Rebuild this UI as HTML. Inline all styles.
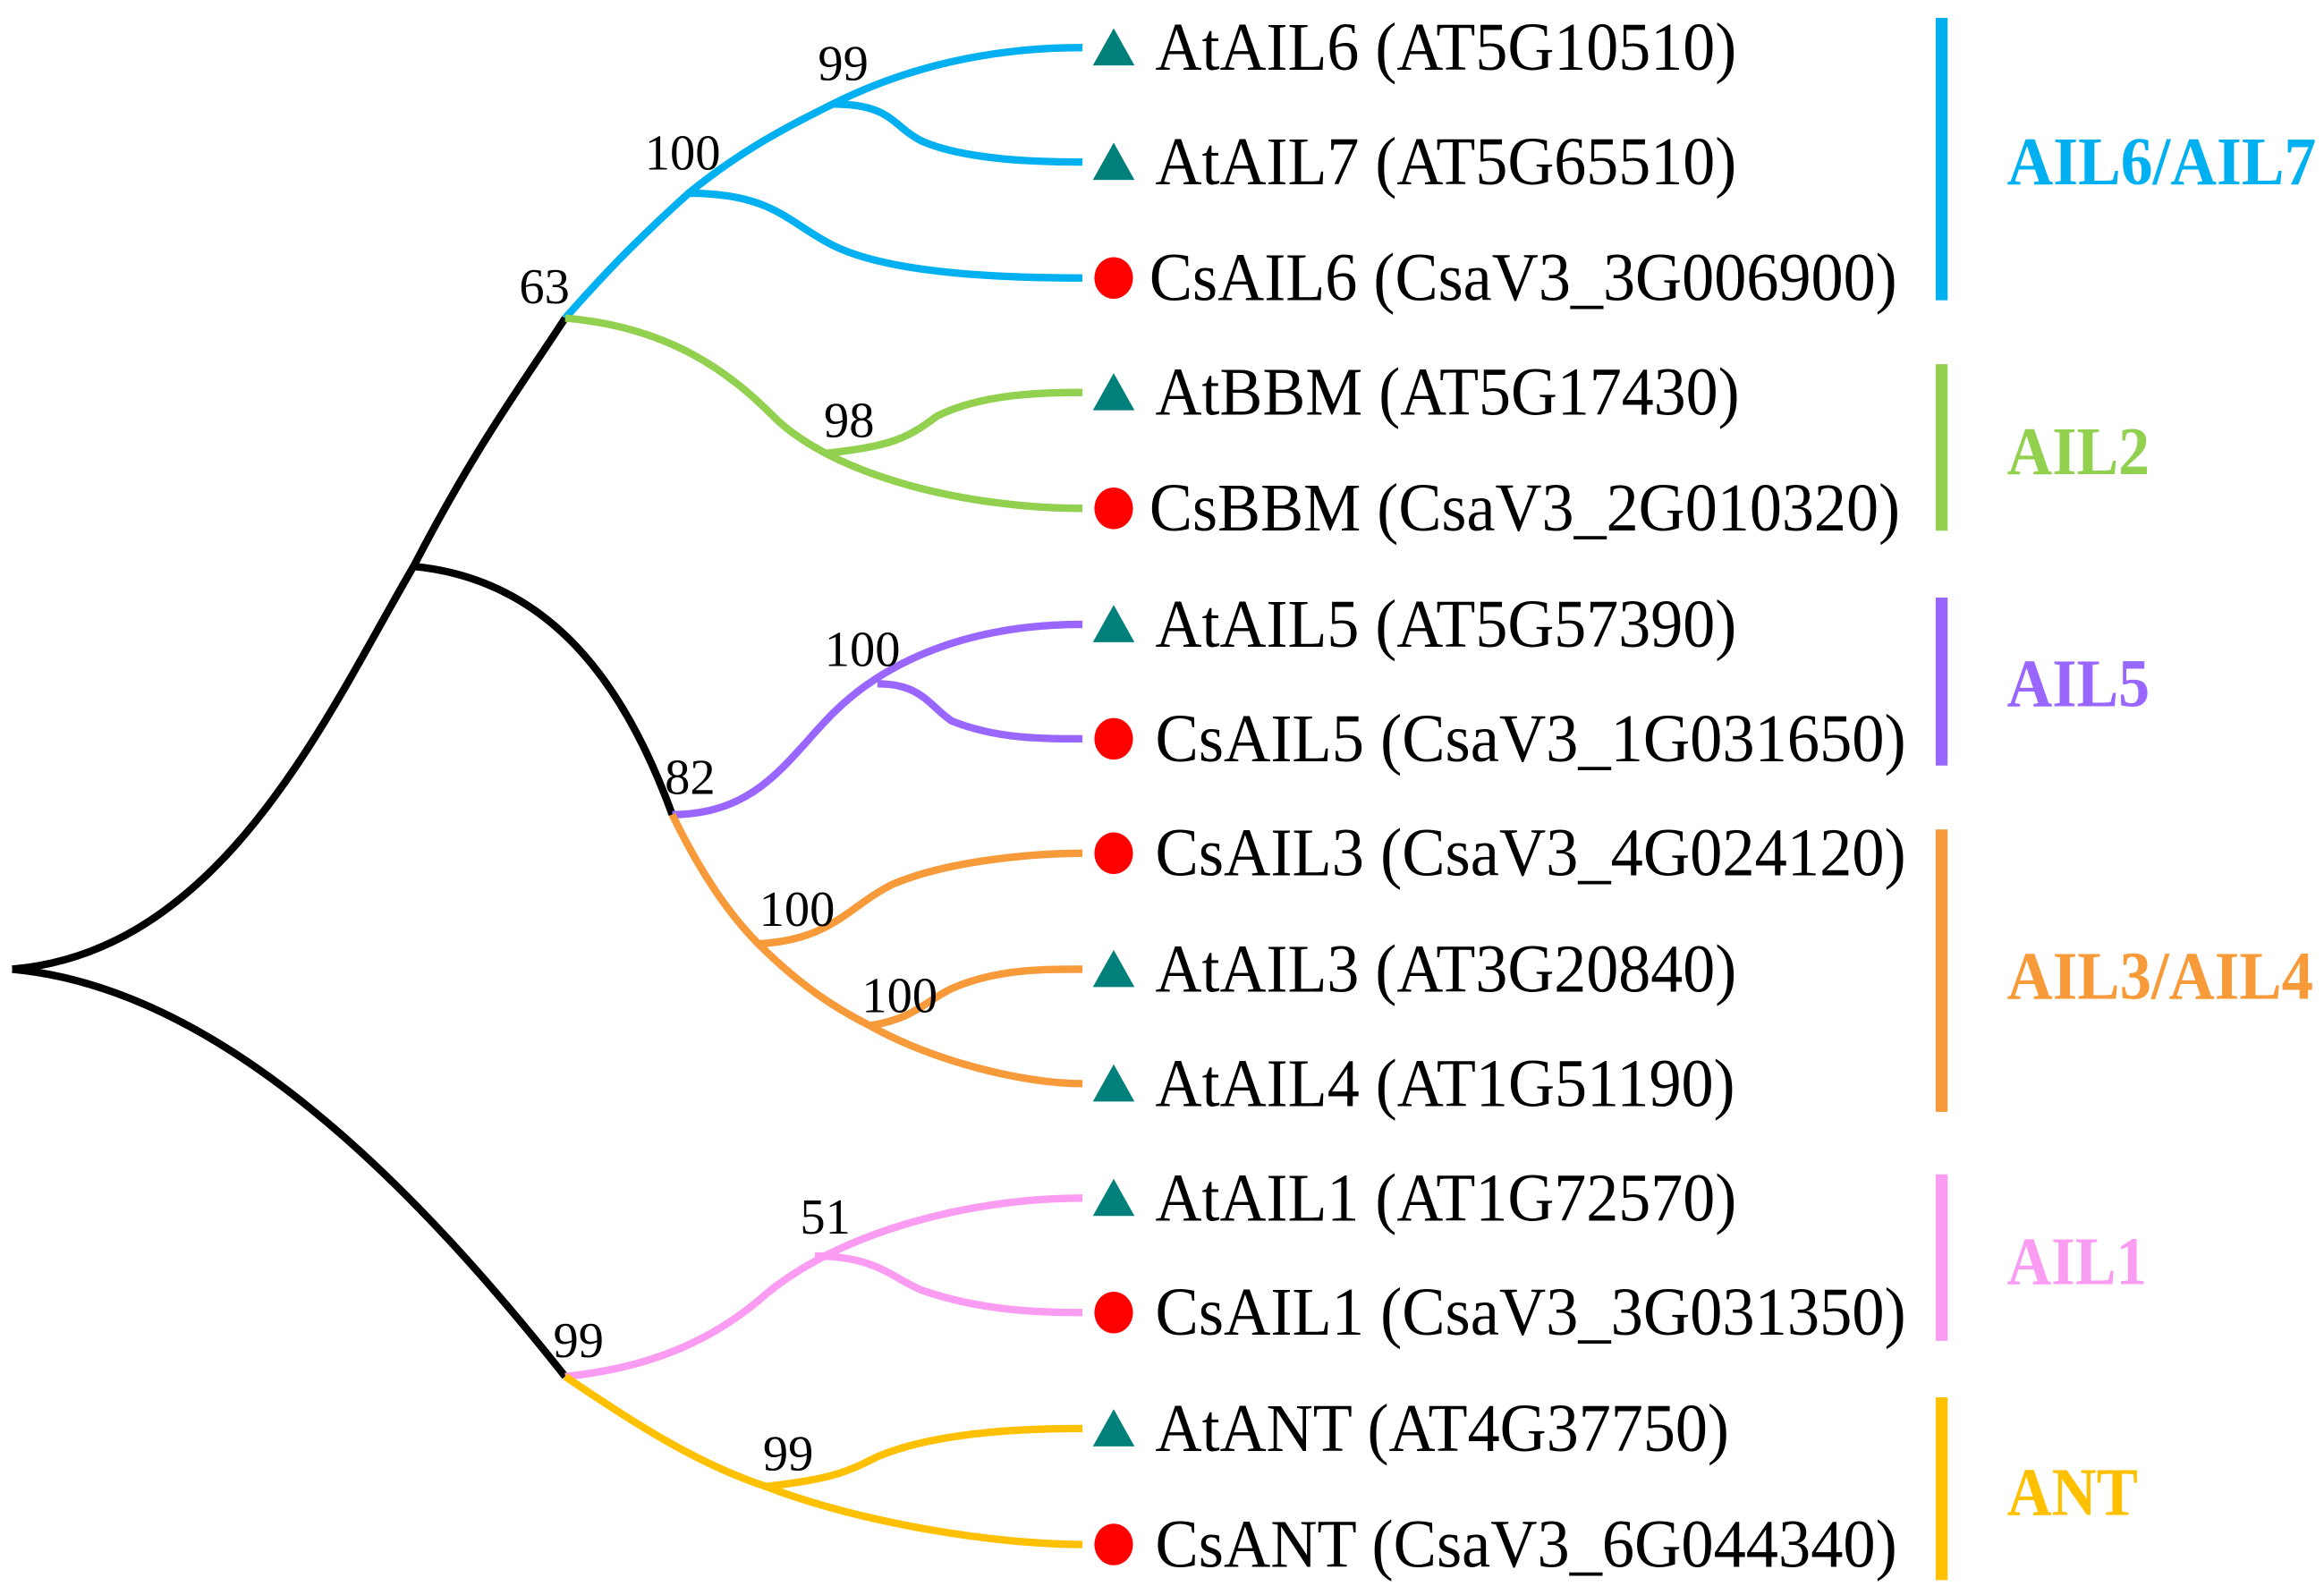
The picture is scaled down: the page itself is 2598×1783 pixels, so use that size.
<!DOCTYPE html>
<html><head><meta charset="utf-8"><style>html,body{margin:0;padding:0;background:#fff}svg{display:block}</style></head>
<body>
<svg width="2598" height="1783" viewBox="0 0 1563 1073" xmlns="http://www.w3.org/2000/svg">
<rect width="1563" height="1073" fill="#fff"/>
<g fill="none" stroke-width="5" stroke-linecap="butt">
<path stroke="#000" d="M8,652 C150,640 220,480 278,381 C320,300 350,260 380,214"/>
<path stroke="#000" d="M8,652 C150,665 280,800 380,926"/>
<path stroke="#000" d="M278,381 C370,390 420,460 452,548"/>
<path stroke="#00b0f0" d="M380,214 C410,180 430,160 463,130 C500,100 530,85 560,70 C620,40 680,32 728,32"/>
<path stroke="#00b0f0" d="M463,130 C520,130 530,150 560,165 C600,185 680,187 728,187"/>
<path stroke="#00b0f0" d="M560,70 C600,70 600,85 620,95 C650,108 700,109 728,109"/>
<path stroke="#92d050" d="M380,214 C450,220 490,250 520,280 C560,320 650,342 728,342"/>
<path stroke="#92d050" d="M555,305 C600,300 610,295 630,280 C660,265 700,264 728,264"/>
<path stroke="#9966ff" d="M452,548 C510,548 530,510 560,480 C600,440 660,420 728,420"/>
<path stroke="#9966ff" d="M590,460 C620,460 625,475 640,485 C670,497 700,497 728,497"/>
<path stroke="#f79a3a" d="M452,548 C470,585 490,615 510,635 C540,665 565,680 585,690 C630,715 690,729 728,729"/>
<path stroke="#f79a3a" d="M510,635 C560,632 570,610 600,595 C640,578 700,574 728,574"/>
<path stroke="#f79a3a" d="M585,690 C615,685 620,675 640,665 C670,652 700,652 728,652"/>
<path stroke="#f99cf2" d="M380,926 C440,920 480,900 510,875 C560,830 650,806 728,806"/>
<path stroke="#f99cf2" d="M548,845 C590,845 600,860 620,868 C660,882 700,883 728,883"/>
<path stroke="#ffc000" d="M380,926 C430,960 470,985 515,1000 C580,1025 670,1039 728,1039"/>
<path stroke="#ffc000" d="M515,1000 C560,995 570,990 590,980 C630,963 690,961 728,961"/>
</g>
<g fill="#00807a">
<polygon points="749,19 735,44 763,44"/>
<polygon points="749,96 735,121 763,121"/>
<polygon points="749,251 735,276 763,276"/>
<polygon points="749,407 735,432 763,432"/>
<polygon points="749,639 735,664 763,664"/>
<polygon points="749,716 735,741 763,741"/>
<polygon points="749,793 735,818 763,818"/>
<polygon points="749,948 735,973 763,973"/>
</g>
<g fill="#ff0000">
<ellipse cx="749" cy="187" rx="13" ry="14"/>
<ellipse cx="749" cy="342" rx="13" ry="14"/>
<ellipse cx="749" cy="497" rx="13" ry="14"/>
<ellipse cx="749" cy="574" rx="13" ry="14"/>
<ellipse cx="749" cy="883" rx="13" ry="14"/>
<ellipse cx="749" cy="1039" rx="13" ry="14"/>
</g>
<g font-family="Liberation Serif, serif" font-size="46" fill="#000">
<text x="777" y="47" textLength="391" lengthAdjust="spacingAndGlyphs">AtAIL6 (AT5G10510)</text>
<text x="777" y="124" textLength="391" lengthAdjust="spacingAndGlyphs">AtAIL7 (AT5G65510)</text>
<text x="773" y="202" textLength="503" lengthAdjust="spacingAndGlyphs">CsAIL6 (CsaV3_3G006900)</text>
<text x="777" y="279" textLength="393" lengthAdjust="spacingAndGlyphs">AtBBM (AT5G17430)</text>
<text x="773" y="357" textLength="505" lengthAdjust="spacingAndGlyphs">CsBBM (CsaV3_2G010320)</text>
<text x="777" y="435" textLength="391" lengthAdjust="spacingAndGlyphs">AtAIL5 (AT5G57390)</text>
<text x="777" y="512" textLength="505" lengthAdjust="spacingAndGlyphs">CsAIL5 (CsaV3_1G031650)</text>
<text x="777" y="589" textLength="505" lengthAdjust="spacingAndGlyphs">CsAIL3 (CsaV3_4G024120)</text>
<text x="777" y="667" textLength="391" lengthAdjust="spacingAndGlyphs">AtAIL3 (AT3G20840)</text>
<text x="777" y="744" textLength="390" lengthAdjust="spacingAndGlyphs">AtAIL4 (AT1G51190)</text>
<text x="777" y="821" textLength="391" lengthAdjust="spacingAndGlyphs">AtAIL1 (AT1G72570)</text>
<text x="777" y="898" textLength="505" lengthAdjust="spacingAndGlyphs">CsAIL1 (CsaV3_3G031350)</text>
<text x="777" y="976" textLength="386" lengthAdjust="spacingAndGlyphs">AtANT (AT4G37750)</text>
<text x="777" y="1054" textLength="499" lengthAdjust="spacingAndGlyphs">CsANT (CsaV3_6G044340)</text>
</g>
<g font-family="Liberation Serif, serif" font-size="34" fill="#000" text-anchor="middle">
<text x="567" y="54">99</text>
<text x="459" y="114">100</text>
<text x="366" y="204">63</text>
<text x="571" y="294">98</text>
<text x="580" y="448">100</text>
<text x="464" y="534">82</text>
<text x="536" y="623">100</text>
<text x="605" y="681">100</text>
<text x="555" y="830">51</text>
<text x="389" y="913">99</text>
<text x="530" y="989">99</text>
</g>
<rect x="1302" y="12" width="8" height="190" fill="#00b0f0"/>
<rect x="1302" y="245" width="8" height="112" fill="#92d050"/>
<rect x="1302" y="402" width="8" height="113" fill="#9966ff"/>
<rect x="1302" y="558" width="8" height="190" fill="#f79a3a"/>
<rect x="1302" y="790" width="8" height="112" fill="#f99cf2"/>
<rect x="1302" y="940" width="8" height="123" fill="#ffc000"/>
<g font-family="Liberation Serif, serif" font-size="46" font-weight="bold">
<text x="1350" y="124" fill="#00b0f0" textLength="208" lengthAdjust="spacingAndGlyphs">AIL6/AIL7</text>
<text x="1350" y="319" fill="#92d050" textLength="96" lengthAdjust="spacingAndGlyphs">AIL2</text>
<text x="1350" y="475" fill="#9966ff" textLength="96" lengthAdjust="spacingAndGlyphs">AIL5</text>
<text x="1350" y="672" fill="#f79a3a" textLength="206" lengthAdjust="spacingAndGlyphs">AIL3/AIL4</text>
<text x="1350" y="864" fill="#f99cf2" textLength="94" lengthAdjust="spacingAndGlyphs">AIL1</text>
<text x="1350" y="1019" fill="#ffc000" textLength="88" lengthAdjust="spacingAndGlyphs">ANT</text>
</g>
</svg>
</body></html>
